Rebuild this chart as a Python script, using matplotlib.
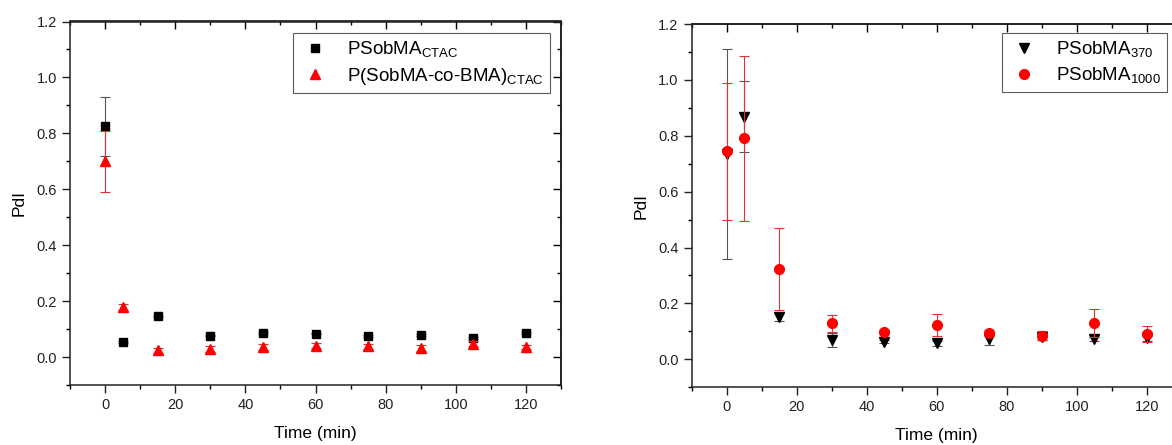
import matplotlib
matplotlib.use("Agg")
import matplotlib.pyplot as plt

plt.rcParams['font.family'] = ['Liberation Sans', 'DejaVu Sans']
plt.rcParams['mathtext.fontset'] = 'custom'
plt.rcParams['mathtext.rm'] = 'Liberation Sans'

# left panel data
time_left = [0, 5, 15, 30, 45, 60, 75, 90, 105, 120]
ctac = [0.825, 0.054, 0.145, 0.077, 0.086, 0.084, 0.074, 0.078, 0.068, 0.086]
ctac_err = [0.105, 0.003, 0.003, 0.003, 0.003, 0.003, 0.004, 0.003, 0.004, 0.003]
cobma = [0.70, 0.179, 0.024, 0.028, 0.036, 0.041, 0.038, 0.032, 0.048, 0.036]
cobma_err = [0.11, 0.010, 0.008, 0.010, 0.010, 0.010, 0.010, 0.010, 0.008, 0.008]

# right panel data
time_right = [0, 5, 15, 30, 45, 60, 75, 90, 105, 120]
p370 = [0.735, 0.868, 0.152, 0.069, 0.063, 0.057, 0.073, 0.080, 0.072, 0.075]
p370_err = [0.375, 0.127, 0.015, 0.025, 0.006, 0.008, 0.022, 0.010, 0.006, 0.008]
p1000 = [0.745, 0.791, 0.323, 0.129, 0.097, 0.123, 0.093, 0.085, 0.129, 0.091]
p1000_err = [0.245, 0.295, 0.146, 0.030, 0.006, 0.040, 0.010, 0.015, 0.050, 0.028]

W, H = 1172, 445
fig = plt.figure(figsize=(W / 100, H / 100), dpi=100)

def style_axes(ax):
    ax.set_xlim(-10, 130)
    ax.set_ylim(-0.1, 1.2)
    ax.set_xticks([0, 20, 40, 60, 80, 100, 120])
    ax.set_xticks(range(-10, 131, 10), minor=True)
    ax.set_yticks([0.0, 0.2, 0.4, 0.6, 0.8, 1.0, 1.2])
    ax.set_yticks([-0.1 + 0.1 * i for i in range(14)], minor=True)
    ax.set_yticklabels(["0.0", "0.2", "0.4", "0.6", "0.8", "1.0", "1.2"])
    ax.tick_params(which='major', direction='out', length=6, width=1, labelsize=10.5, colors='#222222')
    ax.tick_params(which='minor', direction='out', length=3, width=1)
    for s in ax.spines.values():
        s.set_linewidth(1.1)
        s.set_color('#222222')
    top = ax.secondary_xaxis('top')
    top.set_xticks([0, 20, 40, 60, 80, 100, 120])
    top.set_xticks(range(-10, 131, 10), minor=True)
    top.tick_params(which='major', direction='in', length=6, width=1, labeltop=False)
    top.tick_params(which='minor', direction='in', length=3, width=1)
    top.spines['top'].set_linewidth(1.1)
    right = ax.secondary_yaxis('right')
    right.set_yticks([0.0, 0.2, 0.4, 0.6, 0.8, 1.0, 1.2])
    right.set_yticks([-0.1 + 0.1 * i for i in range(14)], minor=True)
    right.tick_params(which='major', direction='in', length=6, width=1, labelright=False)
    right.tick_params(which='minor', direction='in', length=3, width=1)
    right.spines['right'].set_linewidth(1.1)
    ax.set_xlabel("Time (min)", fontsize=12.5, labelpad=10)
    ax.set_ylabel("PdI", fontsize=12.5, labelpad=7)

# left panel
ax1 = fig.add_axes([70 / W, (H - 385) / H, 491 / W, 363.5 / H])
ax1.errorbar(time_left, ctac, yerr=ctac_err, fmt='none', ecolor='#555555',
             elinewidth=0.8, capsize=3.5, capthick=0.8)
ax1.plot(time_left, ctac, 's', color='black', markersize=5.5,
         label=r'PSobMA$_{\mathregular{CTAC}}$')
ax1.errorbar(time_left, cobma, yerr=cobma_err, fmt='none', ecolor='#e03030',
             elinewidth=0.8, capsize=3.5, capthick=0.8)
ax1.plot(time_left, cobma, '^', color='#ff0000', markersize=7,
         label=r'P(SobMA-co-BMA)$_{\mathregular{CTAC}}$')
style_axes(ax1)
leg1 = ax1.legend(loc='upper right', bbox_to_anchor=(0.978, 0.968), borderaxespad=0,
                  fontsize=13.5, frameon=True, fancybox=False, edgecolor='#333333',
                  handletextpad=0.9, borderpad=0.35, labelspacing=0.3, handlelength=1.6)
leg1.get_frame().set_linewidth(0.8)

# right panel
ax2 = fig.add_axes([691.7 / W, (H - 387.2) / H, 490 / W, 363.2 / H])
ax2.errorbar(time_right, p370, yerr=p370_err, fmt='none', ecolor='#555555',
             elinewidth=0.8, capsize=3.5, capthick=0.8)
ax2.plot(time_right, p370, 'v', color='black', markersize=6.5,
         label=r'PSobMA$_{\mathregular{370}}$')
ax2.errorbar(time_right, p1000, yerr=p1000_err, fmt='none', ecolor='#e03030',
             elinewidth=0.8, capsize=3.5, capthick=0.8)
ax2.plot(time_right, p1000, 'o', color='#ff0000', markersize=7,
         label=r'PSobMA$_{\mathregular{1000}}$')
style_axes(ax2)
leg2 = ax2.legend(loc='upper right', bbox_to_anchor=(0.970, 0.975), borderaxespad=0,
                  fontsize=13.5, frameon=True, fancybox=False, edgecolor='#333333',
                  handletextpad=0.9, borderpad=0.35, labelspacing=0.3, handlelength=1.6)
leg2.get_frame().set_linewidth(0.8)

fig.savefig("out.png", dpi=100)
